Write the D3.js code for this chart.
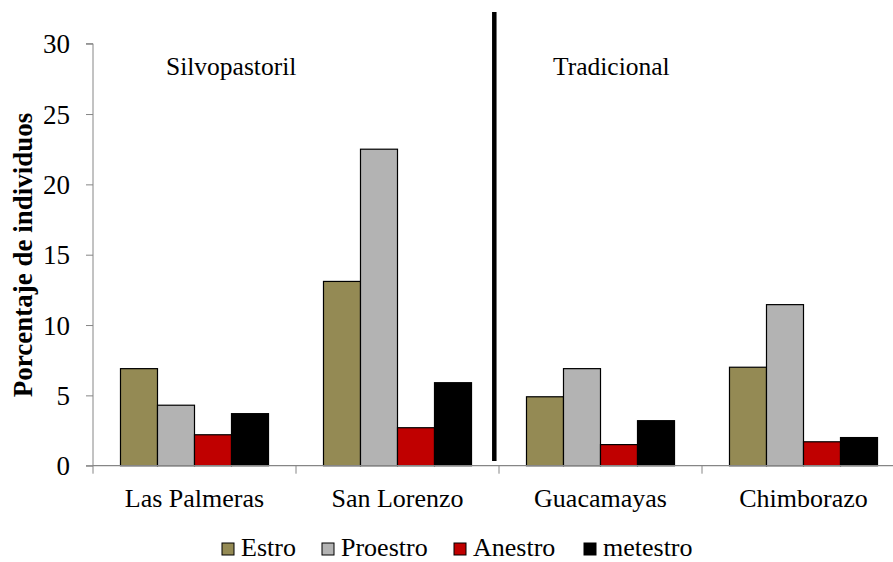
<!DOCTYPE html>
<html><head><meta charset="utf-8">
<script src="https://cdn.jsdelivr.net/npm/d3@7"></script>
</head><body style="margin:0">
<svg id="c" width="893" height="562"></svg>
<script>
const categories = ["Las Palmeras", "San Lorenzo", "Guacamayas", "Chimborazo"];
const seriesNames = ["Estro", "Proestro", "Anestro", "metestro"];
const estro = [6.9, 13.1, 4.9, 7.0];
const proestro = [4.3, 22.5, 6.9, 11.45];
const anestro = [2.2, 2.7, 1.5, 1.7];
const metestro = [3.7, 5.9, 3.2, 2.0];
const yTicks = [0, 5, 10, 15, 20, 25, 30];
const groupLabels = ["Silvopastoril", "Tradicional"];
const colors = ["#948A54", "#B3B3B3", "#C00000", "#000000"];

const FONT = "Liberation Serif";
const BASE = 28;
const series = [estro, proestro, anestro, metestro];
const svg = d3.select("#c");
const x0 = 93, x1 = 905, yb = 465.7, yt = 43.7;
const x = d3.scaleBand().domain(categories).range([x0, x1]).paddingInner(0).paddingOuter(0);
const inner = d3.scaleBand().domain(seriesNames).range([0, x.bandwidth()]).paddingOuter(0.743).paddingInner(0);
const y = d3.scaleLinear().domain([0, 30]).range([yb, yt]);

// text drawn at a 28px base size and scaled to the wanted size
function label(px, py, size, str, anchor, rot, bold) {
  const t = svg.append("text")
    .attr("transform", `translate(${px},${py})${rot ? " rotate(" + rot + ")" : ""} scale(${size / BASE})`)
    .attr("font-family", FONT).attr("font-size", BASE)
    .attr("text-anchor", anchor || "start").attr("fill", "#000")
    .text(str);
  if (bold) t.attr("font-weight", "bold");
  return t;
}

// bars
categories.forEach((c, i) => {
  series.forEach((s, j) => {
    svg.append("rect")
      .attr("x", x(c) + inner(seriesNames[j]))
      .attr("y", y(s[i]))
      .attr("width", inner.bandwidth())
      .attr("height", yb - y(s[i]))
      .attr("fill", colors[j])
      .attr("stroke", "#000").attr("stroke-width", 1.2);
  });
});

// y axis (lines from d3 axis, labels as scaled text)
const ya = svg.append("g").attr("transform", `translate(${x0},0)`)
  .call(d3.axisLeft(y).tickValues(yTicks).tickSize(7).tickFormat(""));
ya.select(".domain").attr("stroke", "#868686").attr("d", `M-7,${yt}H0V${yb}H-7`);
ya.selectAll(".tick line").attr("stroke", "#868686");
yTicks.forEach(v => label(x0 - 23, y(v) + 9.5, 27, String(v), "end"));

// x axis
const xa = svg.append("g").attr("transform", `translate(0,${yb})`);
xa.append("line").attr("x1", x0).attr("x2", 893).attr("stroke", "#868686").attr("stroke-width", 1.2);
categories.concat([null]).forEach((c) => {
  const px = c ? x(c) : x1;
  xa.append("line").attr("x1", px).attr("x2", px).attr("y1", 0).attr("y2", 8).attr("stroke", "#868686");
});
categories.forEach(c => label(x(c) + x.bandwidth() / 2, 507, 26, c, "middle"));

// divider
svg.append("line").attr("x1", 494.3).attr("x2", 494.3).attr("y1", 12).attr("y2", 461)
  .attr("stroke", "#000").attr("stroke-width", 4.5);

// group labels
label(166, 75, 25.5, groupLabels[0]);
label(553, 75, 25.5, groupLabels[1]);

// y label
label(32, 255, 27, "Porcentaje de individuos", "middle", -90, true);

// legend
const legX = [241, 341, 473, 603];
seriesNames.forEach((n, j) => {
  svg.append("rect").attr("x", legX[j] - 19).attr("y", 543).attr("width", 12).attr("height", 12)
    .attr("fill", colors[j]).attr("stroke", "#000").attr("stroke-width", 1);
  label(legX[j], 556, 26, n);
});
</script>
</body></html>
